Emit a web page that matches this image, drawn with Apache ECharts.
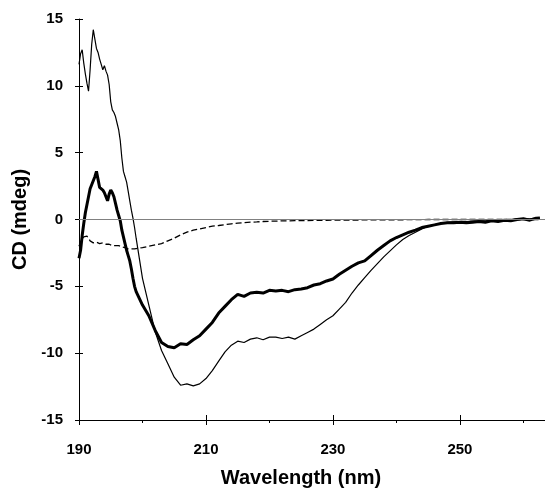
<!DOCTYPE html>
<html>
<head>
<meta charset="utf-8">
<script src="https://cdn.jsdelivr.net/npm/echarts@6/dist/echarts.min.js"></script>
<style>
html,body{margin:0;padding:0;background:#fff;}
#chart{width:545px;height:489px;}
</style>
</head>
<body>
<div id="chart"></div>
<script>
// Wavelength samples (nm)
var wavelength = [
  190,190.25,190.5,190.75,191,191.25,191.5,191.75,192,192.25,192.5,192.75,
  193,193.25,193.5,193.75,194,194.25,194.5,194.75,195,195.25,195.5,195.75,
  196,196.25,196.5,196.75,197,197.25,197.5,197.75,198,198.25,198.5,198.75,199,
  200,201,202,203,204,205,206,207,208,209,
  210,211,212,213,214,215,216,217,218,219,
  220,221,222,223,224,225,226,227,228,229,
  230,231,232,233,234,235,236,237,238,239,
  240,241,242,243,244,245,246,247,248,249,
  250,251,252,253,254,255,256,257,258,259,
  260,261,262,262.6
];
// Thin solid line (mdeg)
var thinCD = [
  11.6,12.4,12.7,11.7,10.9,10.2,9.6,11.2,13.1,14.2,13.5,12.8,
  12.5,12.0,11.6,11.2,11.5,11.1,10.8,10.1,8.8,8.2,8.0,7.7,
  7.2,6.7,5.9,4.6,3.6,3.2,2.8,2.1,1.4,0.7,0.1,-0.6,-1.4,
  -4.4,-6.4,-8.4,-9.8,-10.8,-11.8,-12.4,-12.3,-12.45,-12.3,
  -11.9,-11.3,-10.6,-9.9,-9.4,-9.1,-9.2,-8.95,-8.85,-9.0,
  -8.8,-8.8,-8.9,-8.8,-8.95,-8.7,-8.45,-8.2,-7.85,-7.5,
  -7.2,-6.7,-6.2,-5.5,-4.9,-4.35,-3.8,-3.3,-2.8,-2.35,
  -1.9,-1.5,-1.2,-0.95,-0.7,-0.5,-0.38,-0.3,-0.22,-0.18,
  -0.15,-0.15,-0.12,-0.1,-0.1,-0.05,-0.05,0,0,0.05,
  0.05,0.05,0.1,0.1
];
// Thick solid line (mdeg)
var thickCD = [
  -2.9,-2.3,-1.2,-0.3,0.5,1.1,1.7,2.3,2.6,2.7,3.2,3.6,
  3.0,2.4,2.3,2.2,2.0,1.7,1.4,1.9,2.2,2.0,1.7,1.2,
  0.7,0.3,-0.1,-0.8,-1.3,-1.8,-2.3,-2.7,-3.1,-3.7,-4.4,-5.0,-5.4,
  -6.4,-7.2,-8.3,-9.2,-9.5,-9.6,-9.3,-9.35,-9.0,-8.7,
  -8.2,-7.7,-7.0,-6.5,-6.0,-5.6,-5.75,-5.5,-5.45,-5.5,
  -5.3,-5.35,-5.3,-5.4,-5.25,-5.2,-5.1,-4.9,-4.8,-4.6,
  -4.45,-4.1,-3.8,-3.5,-3.25,-3.1,-2.7,-2.3,-1.95,-1.6,
  -1.35,-1.15,-0.95,-0.8,-0.6,-0.5,-0.4,-0.3,-0.25,-0.25,
  -0.2,-0.25,-0.2,-0.15,-0.2,-0.1,-0.15,-0.05,-0.1,0,
  0.05,-0.05,0.1,0.12
];
// Dashed line (mdeg)
var dashedCD = [
  -2.0,-1.7,-1.45,-1.3,-1.2,-1.25,-1.4,-1.6,-1.7,-1.75,-1.8,-1.7,
  -1.75,-1.8,-1.8,-1.75,-1.8,-1.85,-1.9,-1.85,-1.9,-1.95,-1.9,-1.95,
  -2.0,-1.95,-2.0,-2.05,-2.1,-2.1,-2.15,-2.2,-2.15,-2.2,-2.2,-2.2,-2.2,
  -2.1,-2.0,-1.9,-1.8,-1.6,-1.4,-1.15,-0.95,-0.8,-0.7,
  -0.6,-0.5,-0.45,-0.38,-0.32,-0.27,-0.23,-0.2,-0.18,-0.15,
  -0.13,-0.12,-0.1,-0.1,-0.09,-0.08,-0.08,-0.07,-0.06,-0.06,
  -0.05,-0.05,-0.05,-0.04,-0.04,-0.03,-0.03,-0.03,-0.02,-0.02,
  -0.02,-0.02,-0.01,-0.01,-0.01,0,0,0,0,0,
  0,0,0,0,0,0,0,0,0,0,
  0,0,0,0
];
var xTicks = [190, 210, 230, 250];
var yTicks = [-15, -10, -5, 0, 5, 10, 15];

function pairs(ys) {
  var out = [];
  for (var i = 0; i < wavelength.length; i++) out.push([wavelength[i], ys[i]]);
  return out;
}

var FONT = '"Liberation Sans", Arial, sans-serif';
var chart = echarts.init(document.getElementById('chart'), null, {renderer: 'canvas'});
var xBase = {
  type: 'value', min: xTicks[0], max: 263.4, interval: 20
};
var yBase = {
  type: 'value', min: yTicks[0], max: yTicks[yTicks.length - 1], interval: 5
};
chart.setOption({
  animation: false,
  backgroundColor: '#ffffff',
  grid: {left: 79, right: 0, top: 19, bottom: 69, containLabel: false, outerBoundsMode: 'none'},
  xAxis: [
    Object.assign({}, xBase, {
      name: 'Wavelength (nm)',
      nameLocation: 'middle',
      nameGap: 48,
      nameTextStyle: {fontFamily: FONT, fontWeight: 'bold', fontSize: 20, color: '#000', padding: [0, 22, 0, 0]},
      axisLine: {show: true, onZero: false, lineStyle: {color: '#000', width: 1}},
      axisTick: {show: true, inside: false, length: 5, lineStyle: {color: '#000'}},
      minorTick: {show: true, splitNumber: 2, length: 3, lineStyle: {color: '#000'}},
      axisLabel: {
        show: true, margin: 22, fontFamily: FONT, fontWeight: 'bold', fontSize: 15, color: '#000',
        showMaxLabel: false,
        formatter: function (v) { return xTicks.indexOf(v) >= 0 ? String(v) : ''; }
      },
      splitLine: {show: false}
    }),
    Object.assign({}, xBase, {
      position: 'bottom',
      axisLine: {show: false, onZero: false},
      axisTick: {show: true, inside: true, length: 5, lineStyle: {color: '#000'}},
      axisLabel: {show: false},
      splitLine: {show: false}
    })
  ],
  yAxis: [
    Object.assign({}, yBase, {
      name: 'CD (mdeg)',
      nameLocation: 'middle',
      nameGap: 48,
      nameTextStyle: {fontFamily: FONT, fontWeight: 'bold', fontSize: 20, color: '#000'},
      axisLine: {show: true, onZero: false, lineStyle: {color: '#000', width: 1}},
      axisTick: {show: true, inside: false, length: 4, lineStyle: {color: '#000'}},
      axisLabel: {margin: 16, fontFamily: FONT, fontWeight: 'bold', fontSize: 15, color: '#000'},
      splitLine: {show: false}
    }),
    Object.assign({}, yBase, {
      position: 'left',
      axisLine: {show: false, onZero: false},
      axisTick: {show: true, inside: true, length: 4, lineStyle: {color: '#000'}},
      axisLabel: {show: false},
      splitLine: {show: false}
    })
  ],
  series: [
    {
      type: 'line', name: 'dashed', data: pairs(dashedCD), showSymbol: false, symbol: 'none',
      lineStyle: {color: '#000', width: 1.3, type: [6, 3]},
      markLine: {
        silent: true, symbol: ['none', 'none'], label: {show: false},
        lineStyle: {color: '#808080', width: 1, type: 'solid'},
        data: [{yAxis: 0}]
      },
      z: 2
    },
    {
      type: 'line', name: 'thin', data: pairs(thinCD), showSymbol: false, symbol: 'none',
      lineStyle: {color: '#000', width: 1.2}, z: 3
    },
    {
      type: 'line', name: 'thick', data: pairs(thickCD), showSymbol: false, symbol: 'none',
      lineStyle: {color: '#000', width: 3}, z: 4
    }
  ]
});
</script>
</body>
</html>
